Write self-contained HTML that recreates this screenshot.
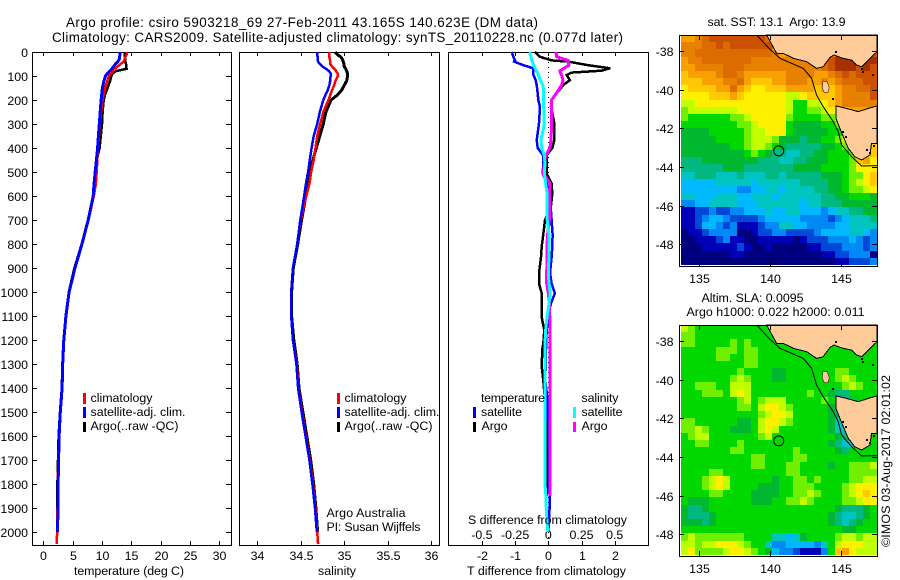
<!DOCTYPE html>
<html lang="en">
<head>
<meta charset="utf-8">
<title>Argo profile 5903218_69</title>
<style>
html,body{margin:0;padding:0;background:#fff;}
svg{display:block;font-family:"Liberation Sans",Arial,sans-serif;font-size:12.4px;fill:#000;}
.ttl{font-size:13.4px;}
.pre{white-space:pre;}
</style>
</head>
<body>
<svg id="chart" xmlns="http://www.w3.org/2000/svg" width="900" height="580" viewBox="0 0 900 580">
  <rect x="0" y="0" width="900" height="580" fill="#fff"/>
  <text class="ttl" x="66" y="27" textLength="472" lengthAdjust="spacing">Argo profile: csiro 5903218_69 27-Feb-2011 43.165S 140.623E (DM data)</text>
  <text class="ttl" x="52" y="42" textLength="571" lengthAdjust="spacing">Climatology: CARS2009. Satellite-adjusted climatology: synTS_20110228.nc (0.077d later)</text>

  <g id="p1"></g>
  <g id="p2"></g>
  <g id="p3"></g>
  <g id="m1"></g>
  <g id="m2"></g>

  <text x="74" y="575" textLength="110" lengthAdjust="spacing">temperature (deg C)</text>
  <text x="318" y="575" textLength="38" lengthAdjust="spacing">salinity</text>
  <text x="467" y="575" textLength="159" lengthAdjust="spacing">T difference from climatology</text>
  <text x="468" y="524" textLength="159" lengthAdjust="spacing">S difference from climatology</text>

  <g>
    <rect x="83" y="393" width="3" height="11" fill="#f00"/>
    <rect x="83" y="407" width="3" height="11" fill="#00f"/>
    <rect x="83" y="422" width="3" height="10" fill="#000"/>
    <text x="90.5" y="402" textLength="62" lengthAdjust="spacing">climatology</text>
    <text x="90.5" y="416" textLength="95" lengthAdjust="spacing">satellite-adj. clim.</text>
    <text x="90.5" y="430" textLength="88" lengthAdjust="spacing">Argo(..raw -QC)</text>
  </g>
  <g>
    <rect x="337" y="393" width="3" height="11" fill="#f00"/>
    <rect x="337" y="407" width="3" height="11" fill="#00f"/>
    <rect x="337" y="422" width="3" height="10" fill="#000"/>
    <text x="344.5" y="402" textLength="62" lengthAdjust="spacing">climatology</text>
    <text x="344.5" y="416" textLength="95" lengthAdjust="spacing">satellite-adj. clim.</text>
    <text x="344.5" y="430" textLength="88" lengthAdjust="spacing">Argo(..raw -QC)</text>
    <text x="326.5" y="517" textLength="79" lengthAdjust="spacing">Argo Australia</text>
    <text x="326.5" y="531" textLength="94" lengthAdjust="spacing">PI: Susan Wijffels</text>
  </g>
  <g>
    <text x="481" y="402" textLength="64" lengthAdjust="spacing">temperature</text>
    <rect x="473" y="407" width="3" height="11" fill="#00f"/>
    <text x="481" y="416" textLength="41" lengthAdjust="spacing">satellite</text>
    <rect x="473" y="422" width="3" height="10" fill="#000"/>
    <text x="481.5" y="430" textLength="26" lengthAdjust="spacing">Argo</text>
    <text x="581.5" y="402" textLength="37" lengthAdjust="spacing">salinity</text>
    <rect x="573" y="407" width="3" height="11" fill="#0ff"/>
    <text x="581.5" y="416" textLength="41" lengthAdjust="spacing">satellite</text>
    <rect x="573" y="422" width="3" height="10" fill="#f0f"/>
    <text x="581.5" y="430" textLength="26" lengthAdjust="spacing">Argo</text>
  </g>

  <text class="pre" x="707.5" y="26" textLength="138" lengthAdjust="spacing">sat. SST: 13.1  Argo: 13.9</text>
  <text x="701.5" y="302" textLength="102" lengthAdjust="spacing">Altim. SLA: 0.0095</text>
  <text x="686.5" y="316" textLength="178" lengthAdjust="spacing">Argo h1000: 0.022 h2000: 0.011</text>
  <text transform="translate(890,547) rotate(-90)" textLength="172" lengthAdjust="spacing">©IMOS 03-Aug-2017 02:01:02</text>
</svg>
<script>
// ---- profile data ----
const depthLevels = [0,10,20,30,40,50,60,70,80,90,100,120,140,160,180,200,250,300,350,400,450,500,550,600,700,800,900,1000,1100,1200,1300,1400,1500,1600,1700,1800,1900,2000,2050];
const tempClim = [14.3,14.2,14.0,13.85,13.7,13.2,12.7,12.2,11.9,11.5,11.2,10.9,10.65,10.45,10.25,10.1,9.85,9.65,9.5,9.3,9.2,9.1,8.95,8.6,7.7,6.6,5.4,4.45,3.9,3.5,3.3,3.2,2.9,2.65,2.55,2.45,2.42,2.35,2.3];
const tempSat = [13.07,13.05,13.0,12.95,12.7,12.3,12.0,11.7,11.3,10.9,10.6,10.35,10.15,10.0,9.95,9.85,9.7,9.55,9.4,9.25,9.05,8.85,8.65,8.5,7.65,6.6,5.4,4.4,3.85,3.5,3.3,3.2,2.9,2.7,2.6,2.52,2.5,2.42,null];
const tempArgo = [13.9,13.9,13.9,14.0,14.0,14.1,14.1,14.2,12.3,11.8,11.6,11.4,11.1,10.8,10.5,10.3,10.1,10.0,9.8,9.6,9.1,8.8,8.7,8.5,7.6,6.55,5.3,4.35,3.85,3.45,3.25,3.15,2.85,2.6,2.5,2.4,2.4,2.35,null];
const salClim = [34.83,34.83,34.83,34.835,34.84,34.84,34.86,34.89,34.91,34.925,34.93,34.9,34.885,34.86,34.84,34.82,34.76,34.725,34.69,34.67,34.65,34.62,34.6,34.565,34.5,34.46,34.41,34.39,34.39,34.41,34.455,34.475,34.515,34.56,34.605,34.64,34.67,34.69,34.7];
const salSat = [34.69,34.69,34.695,34.695,34.70,34.72,34.75,34.79,34.83,34.845,34.845,34.84,34.83,34.81,34.785,34.76,34.72,34.69,34.65,34.625,34.605,34.585,34.56,34.54,34.495,34.46,34.41,34.39,34.39,34.41,34.45,34.47,34.51,34.555,34.6,34.635,34.665,34.685,null];
const salArgo = [34.895,34.92,34.96,34.98,34.99,35.0,35.0,35.02,35.03,35.04,35.04,35.03,35.0,34.97,34.92,34.85,34.79,34.76,34.72,34.68,34.64,34.6,34.58,34.56,34.51,34.465,34.415,34.395,34.395,34.42,34.46,34.48,34.525,34.57,34.615,34.65,34.675,34.695,null];

const diffDepths = [0,20,35,40,55,68,78,86,96,117,138,172,200,228,297,367,400,430,465,506,547,590,640,700,760,810,855,920,965,1005,1047,1090,1105,1160,1215,1240,1310,1370,1450,1600,1800,1850,1900,2000];
const diffTArgo = [-0.4,-0.25,0.1,0.6,1.2,1.86,1.6,0.7,0.55,0.65,0.45,0.25,0.1,0.08,0.18,0.18,0.12,-0.05,-0.05,-0.05,0.1,0.12,0.08,-0.1,-0.15,-0.2,-0.22,-0.28,-0.28,-0.2,-0.2,-0.2,-0.2,-0.12,-0.15,-0.18,-0.2,-0.15,-0.1,-0.05,-0.05,-0.05,null,null];
const diffTSat = [-1.1,-1.05,-1.0,-1.03,-0.75,-0.45,-0.45,-0.45,-0.45,-0.38,-0.35,-0.32,-0.3,-0.25,-0.28,-0.35,-0.32,-0.16,-0.15,-0.17,-0.05,0.05,0.07,0.1,0.13,0.12,0.1,0.05,0.1,0.2,0.08,0,0,-0.05,-0.06,-0.07,-0.08,-0.09,-0.02,0,0.02,0.04,0.04,0];
const diffSSat = [-0.14,-0.13,-0.125,-0.12,-0.11,-0.1,-0.09,-0.08,-0.075,-0.06,-0.04,-0.035,-0.035,-0.035,-0.03,-0.055,-0.05,-0.03,-0.025,-0.03,-0.02,-0.01,-0.008,-0.008,0.005,0.005,0.005,0,0.005,0.015,0.005,-0.005,-0.01,-0.02,-0.025,-0.025,-0.025,-0.025,-0.025,-0.025,-0.025,-0.018,-0.015,-0.005];
const diffSArgo = [0.058,0.063,0.15,0.15,0.155,0.12,0.088,0.09,0.1,0.11,0.1,0.06,0.025,0.025,0.025,0.02,0.012,-0.018,-0.03,-0.038,0.012,0.01,0.008,0.008,-0.005,-0.01,-0.01,-0.012,-0.012,0,0.008,0.01,0.012,0.012,0.012,0.013,0.013,0.013,0.012,0.012,0.012,0.012,null,null];

// ---- tick labels ----
const depthTicks = [0,100,200,300,400,500,600,700,800,900,1000,1100,1200,1300,1400,1500,1600,1700,1800,1900,2000];
const tempTicks = [0,5,10,15,20,25,30];
const salTicks = [34,34.5,35,35.5,36];
const tDiffTicks = [-2,-1,0,1,2];
const sDiffTicks = [-0.5,-0.25,0,0.25,0.5];
const lonTicks = [135,140,145];
const latTicks = [38,40,42,44,46,48];

// ---- map data: one character per cell, index into the colour levels ----
const sstRows = [
"ddefggggggggfcffffffffffffff",
"eeeffgfggggggfcdffffffffffff",
"eefffffffffffedeeeeeeegggggg",
"deefffffffeeeeeeeeeffghhhhhh",
"ddeeeefffeeeeeeeeeeefghhhghg",
"cddddeffeddddddeeeeddefgfggg",
"cccdddeefdcccddeeeddedefffgg",
"bccccddfdcbbcccddddcdcdeeffg",
"bbbbcccdcbbbbbbaabccccdeeeeg",
"aabbbbbbbbbbbbba88aabcdeeeee",
"9aaaaaaabbbbbbba8899abbcdddd",
"988888899abbbbb9888899abcddd",
"8888888899abbbb87777889abccc",
"7777888889aabbb87777788 9abcc",
"777778888 9aaa977767788 9abcc",
"7777777889aa987666667789aabc",
"7777777778987665566778889abc",
"6667777777766655667778889cdb",
"6666667776666666777788889bbb",
"55666555655566566666777899bc",
"4444455555455555566667789abc",
"44444444334455455556677899ab",
"5544455544555455555566778887",
"3344555544455555545566677777",
"1122322334445445544434556677",
"1123443222234444433332345556",
"1124432311123355443333445555",
"0112333300122332222344445543",
"0011123110011111012223334323",
"0001111121001000001122233323",
"0000000110000000000011223330",
"0000000000000000000000112223"
].map(function (s) { return s.replace(/ /g, ""); });
const slaRows = [
"a988888888888888888888888888",
"9988888888888888888888888888",
"9988888989888888888888888888",
"8888899989988888888888888888",
"8888899889988888888888888888",
"8888888889988888888888888888",
"8888888898888778888888998888",
"88888889a98887788888889a9888",
"8899988aaa88888888888889a988",
"8889998aba888888889887668888",
"888888889a89aaa8888898766888",
"88888888998abba9888887668888",
"888888888889abba888887658888",
"99888888778abba9888887558888",
"99a98887778aba88888887558888",
"89aa88888889a888888888765888",
"8899888898888888888887655888",
"8888888998888888988888768888",
"8888888888998888998888888888",
"888888888899888998888788999a",
"8888998888888889988888889999",
"8889aba8888887889989888899aa",
"8889aba8888777889998888 9abb",
"888899888877778899a98889abcb",
"87778888887778899a9888899abb",
"7667888888888888888888766678",
"7666788888888888888887655678",
"7776788888888888888887656788",
"8888888888888888888888877888",
"9a99999998888554578888 9aa9a",
"aa9aabbba9885334444358abbbaa",
"ab9999abba987433211138cdbaaa"
].map(function (s) { return s.replace(/ /g, ""); });
const levelColors = ["#00007f","#0000b8","#0048d8","#0088f4","#00b8ff","#00c4c0","#00b880","#00b830","#00d800","#70f000","#c0ff00","#fff000","#ffc800","#f8a000","#e88000","#dc6c00","#cc5000","#a83000"];
const levelKeys = "0123456789abcdefgh";

// ---- coast and contour (degrees E, degrees S) ----
const mainlandLon = [139.76,140.47,140.94,141.65,142.59,143.30,143.77,144.25,144.55,144.85,145.19,145.78,146.13,146.49,146.96,147.59,147.59];
const mainlandLat = [37.17,38.12,38.12,38.38,38.55,38.90,38.81,38.33,38.20,38.30,38.38,38.47,38.72,38.81,38.47,38.03,37.17];
const tasmaniaLon = [144.67,145.42,146.25,146.96,147.59,147.59,147.19,147.08,146.49,146.0,145.54,145.14,144.95,144.67];
const tasmaniaLat = [40.84,40.97,41.14,40.97,40.84,42.78,42.78,43.38,43.64,43.47,43.03,42.34,42.0,41.48];
const contourLon = [139.06,140.0,140.71,142.36,142.95,143.3,143.77,144.48,144.83,145.07,145.78,146.49,147.59];
const contourLat = [37.17,37.91,38.38,38.9,39.41,40.28,40.88,41.66,42.17,42.86,43.47,43.95,43.93];
const kingIslandLon = [143.75,144.05,144.2,144.1,143.85,143.7];
const kingIslandLat = [39.55,39.6,39.9,40.15,40.17,39.9];
const isletLon = [144.67,144.45,145.4,146.5,146.55,147.3,145.2,146.9,147.1,147.35];
const isletLat = [38.05,40.5,42.45,38.95,39.1,39.25,42.2,43.1,43.3,42.9];
const floatLon = 140.623;
const floatLat = 43.165;

// ---- helpers ----
const NS = "http://www.w3.org/2000/svg";
function make(parent, tag, props) {
  const node = document.createElementNS(NS, tag);
  for (const k in props) node.setAttribute(k, props[k]);
  parent.appendChild(node);
  return node;
}
function depthY(d) { return 52 + d * 0.24; }
function tempX(t) { return 43.3 + t * 5.867; }
function salX(s) { return 257.3 + (s - 34) * 86.8; }
function tDiffX(t) { return 548.3 + t * 33.2; }
function sDiffX(s) { return 548.3 + s * 132.8; }
function lonX(lon) { return 699.3 + (lon - 135) * 14.13; }
function latY(lat, top) { return top + 16 + (lat - 38) * 19.33; }

function frame(g, x, y, w, h) {
  const el = make(g, "rect", {x: x + 0.5, y: y + 0.5, width: w, height: h, fill: "none", stroke: "#000", "stroke-width": 1, "shape-rendering": "crispEdges"});
  
  
}
function tickMark(g, x1, y1, x2, y2) {
  const el = make(g, "line", {x1: x1, y1: y1, x2: x2, y2: y2, stroke: "#000", "stroke-width": 1, "shape-rendering": "crispEdges"});
  
  
}
function tickLabel(g, x, y, str, anchor) {
  const el = make(g, "text", {x: x, y: y, "text-anchor": anchor});
  el.textContent = str;
  
  
}
function profile(g, depths, values, xFn, color, width, label) {
  let d = "";
  values.forEach(function (v, i) {
    if (v === null) return;
    d += (d ? "L" : "M") + xFn(v).toFixed(1) + " " + depthY(depths[i]).toFixed(1);
  });
  const el = make(g, "path", {d: d, fill: "none", stroke: color, "stroke-width": width, "shape-rendering": "crispEdges", "stroke-linejoin": "miter"});
  
  
}
function xTicks(g, ticks, xFn, baseline) {
  ticks.forEach(function (t) {
    const x = Math.round(xFn(t)) + 0.5;
    tickMark(g, x, 52, x, 56);
    tickMark(g, x, 545, x, 541);
    tickLabel(g, x, baseline, String(t), "middle");
  });
}

// ---- temperature panel ----
const p1 = document.getElementById("p1");
frame(p1, 32, 52, 199, 493);
depthTicks.forEach(function (d) {
  const y = Math.round(depthY(d)) + 0.5;
  tickMark(p1, 32, y, 37, y);
  tickMark(p1, 231, y, 226, y);
  tickLabel(p1, 28, y + 4.5, String(d), "end");
});
xTicks(p1, tempTicks, tempX, 560);
profile(p1, depthLevels, tempArgo, tempX, "#000", 2.5, "temperature-argo-line");
profile(p1, depthLevels, tempClim, tempX, "#f00", 2.5, "temperature-climatology-line");
profile(p1, depthLevels, tempSat, tempX, "#00f", 3, "temperature-satellite-line");

// ---- salinity panel ----
const p2 = document.getElementById("p2");
frame(p2, 239, 52, 200, 493);
xTicks(p2, salTicks, salX, 560);
profile(p2, depthLevels, salArgo, salX, "#000", 3, "salinity-argo-line");
profile(p2, depthLevels, salClim, salX, "#f00", 2.5, "salinity-climatology-line");
profile(p2, depthLevels, salSat, salX, "#00f", 2.5, "salinity-satellite-line");

// ---- difference panel ----
const p3 = document.getElementById("p3");
frame(p3, 448, 52, 200, 493);
const zeroLine = make(p3, "line", {x1: 548.5, y1: 52, x2: 548.5, y2: 545, stroke: "#000", "stroke-width": 1, "stroke-dasharray": "1 4", "shape-rendering": "crispEdges"});


xTicks(p3, tDiffTicks, tDiffX, 560);
sDiffTicks.forEach(function (s) {
  tickLabel(p3, sDiffX(s), 539, String(s), "middle");
});
profile(p3, diffDepths, diffTArgo, tDiffX, "#000", 2.5, "t-difference-argo-line");
profile(p3, diffDepths, diffTSat, tDiffX, "#00f", 2.5, "t-difference-satellite-line");
profile(p3, diffDepths, diffSArgo, sDiffX, "#f0f", 3, "s-difference-argo-line");
profile(p3, diffDepths, diffSSat, sDiffX, "#0ff", 3, "s-difference-satellite-line");

// ---- maps ----
function drawMap(g, top, rows, prefix) {
  const nR = rows.length;
  const lon0 = 133.72, lon1 = 147.59, lat0 = 37.17, lat1 = 49.07;
  rows.forEach(function (row, r) {
    const nC = 28;
    for (let c = 0; c < nC; c++) {
      const ch = row.charAt(Math.min(c, row.length - 1));
      const x0 = Math.round(lonX(lon0 + (lon1 - lon0) * c / nC));
      const x1 = Math.round(lonX(lon0 + (lon1 - lon0) * (c + 1) / nC));
      const y0 = Math.round(latY(lat0 + (lat1 - lat0) * r / nR, top));
      const y1 = Math.round(latY(lat0 + (lat1 - lat0) * (r + 1) / nR, top));
      const cell = make(g, "rect", {x: x0, y: y0, width: x1 - x0, height: y1 - y0, fill: levelColors[levelKeys.indexOf(ch)], "shape-rendering": "crispEdges"});
      
      
    }
  });
  function pts(lons, lats) {
    return lons.map(function (lon, i) { return lonX(lon).toFixed(1) + "," + latY(lats[i], top).toFixed(1); }).join(" ");
  }
  const mainland = make(g, "polygon", {points: pts(mainlandLon, mainlandLat), fill: "#ffcc99", stroke: "#000", "stroke-width": 1, "shape-rendering": "crispEdges"});
  
  
  const tas = make(g, "polygon", {points: pts(tasmaniaLon, tasmaniaLat), fill: "#ffcc99", stroke: "#000", "stroke-width": 1, "shape-rendering": "crispEdges"});
  
  
  const king = make(g, "polygon", {points: pts(kingIslandLon, kingIslandLat), fill: "#ffcc99", stroke: "#000", "stroke-width": 0.5});
  
  
  isletLon.forEach(function (lon, i) {
    const islet = make(g, "rect", {x: Math.round(lonX(lon)) - 1, y: Math.round(latY(isletLat[i], top)) - 1, width: 2, height: 2, fill: "#000"});
    
    
  });
  const contour = make(g, "polyline", {points: pts(contourLon, contourLat), fill: "none", stroke: "#000", "stroke-width": 1});
  
  
  const marker = make(g, "circle", {cx: lonX(floatLon), cy: latY(floatLat, top), r: 5, fill: "none", stroke: "#000", "stroke-width": 1});
  
  

  const bottom = top + 231;
  frame(g, 679, top, 198, 231);
  lonTicks.forEach(function (lon) {
    const x = Math.round(lonX(lon)) + 0.5;
    tickMark(g, x, top, x, top + 5);
    tickMark(g, x, bottom, x, bottom - 5);
    tickLabel(g, x, bottom + 17, String(lon), "middle");
  });
  latTicks.forEach(function (lat) {
    const y = Math.round(latY(lat, top)) + 0.5;
    tickMark(g, 679, y, 684, y);
    tickMark(g, 877, y, 872, y);
    tickLabel(g, 673.5, y + 4.5, "-" + lat, "end");
  });
}
drawMap(document.getElementById("m1"), 35, sstRows, "sst");
drawMap(document.getElementById("m2"), 325, slaRows, "sla");
</script>
</body>
</html>
